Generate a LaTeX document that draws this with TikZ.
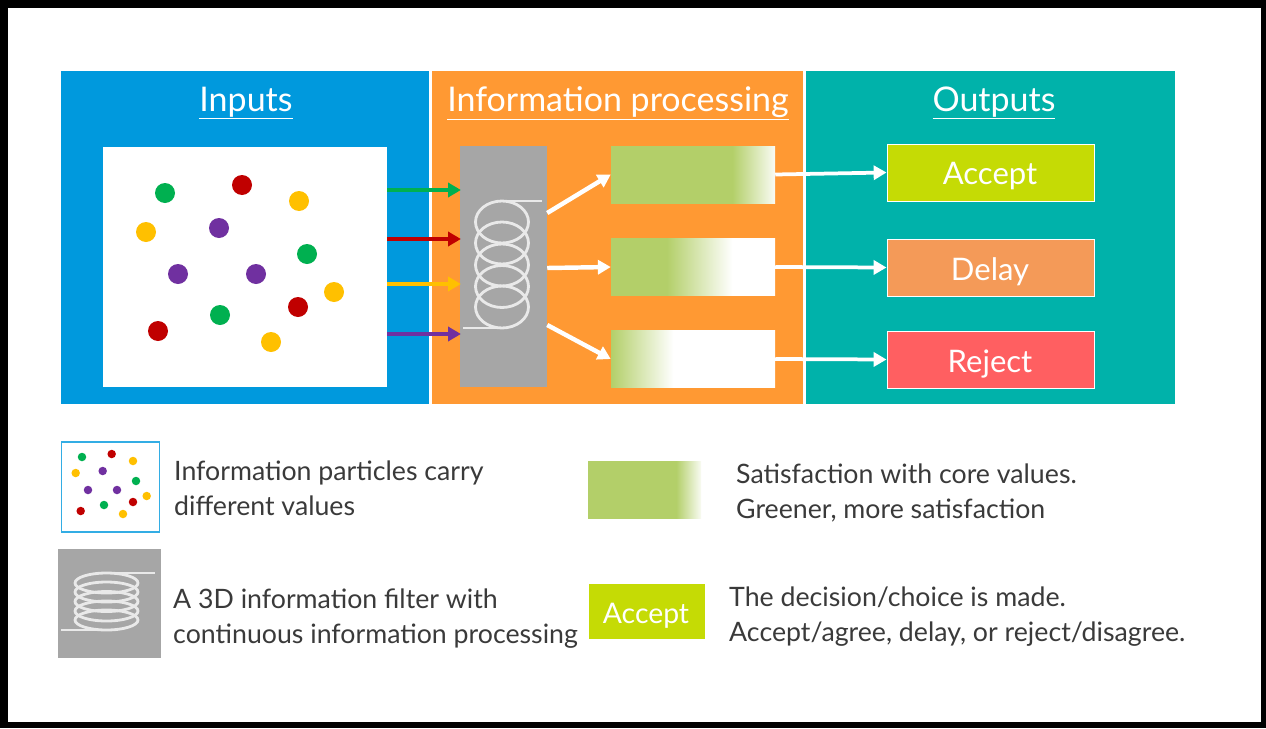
\documentclass[tikz,border=0pt]{standalone}
\usepackage{fontspec}
\setmainfont{Lato}
\usetikzlibrary{arrows.meta}
\definecolor{inblue}{HTML}{0099DD}
\definecolor{procorange}{HTML}{FF9933}
\definecolor{outteal}{HTML}{00B2AA}
\definecolor{satgreen}{HTML}{B3CF69}
\definecolor{acceptgreen}{HTML}{C5DB05}
\definecolor{delayorange}{HTML}{F49A58}
\definecolor{rejectred}{HTML}{FF5F61}
\definecolor{filtergray}{HTML}{A6A6A6}
\definecolor{coilwhite}{HTML}{E9E9E9}
\definecolor{legendtext}{HTML}{3A3A3A}
\definecolor{pgreen}{HTML}{00B050}
\definecolor{pred}{HTML}{C00000}
\definecolor{pyellow}{HTML}{FFC000}
\definecolor{ppurple}{HTML}{7030A0}
\pgfdeclarehorizontalshading{satA}{100bp}{color(0bp)=(satgreen); color(62bp)=(satgreen); color(76bp)=(white); color(100bp)=(white)}
\pgfdeclarehorizontalshading{satB}{100bp}{color(0bp)=(satgreen); color(42bp)=(satgreen); color(62bp)=(white); color(100bp)=(white)}
\pgfdeclarehorizontalshading{satC}{100bp}{color(0bp)=(satgreen); color(25bp)=(satgreen); color(44bp)=(white); color(100bp)=(white)}
\pgfdeclarehorizontalshading{satL}{100bp}{color(0bp)=(satgreen); color(64bp)=(satgreen); color(76bp)=(white); color(100bp)=(white)}
\def\px{0.03cm}
\tikzset{
    panel/.style={inner sep=0pt, minimum height=333*\px},
    panelhead/.style={text=white, font=\fontsize{29}{32}\selectfont},
    fitbox/.style={shade, inner sep=0pt, minimum width=164*\px, minimum height=57*\px},
    outbox/.style={draw=white, line width=0.8pt, text=white, inner sep=0pt, minimum width=207*\px, minimum height=57*\px, font=\fontsize{26.5}{28}\selectfont},
    particle/.style={circle, inner sep=0pt},
    legendnote/.style={anchor=west, align=left, inner sep=0pt, text=legendtext, font=\fontsize{22.8}{30.2}\selectfont},
    inarrow/.style={line width=3pt, -{Triangle[length=11pt,width=12pt]}},
    whitearrow/.style={white, line width=3.8pt, -{Triangle[length=11pt,width=12pt]}},
    coil/.style={coilwhite, line width=2.4pt},
}
\begin{document}
\begin{tikzpicture}[x=\px, y=-\px]
    \useasboundingbox (0,0) rectangle (1266,728);
    \fill[black] (0,0) rectangle (1266,728);
    \fill[white] (8,8) rectangle (1261,722);

    \node[panel, fill=inblue, minimum width=368*\px] (inputs) at (245,237.5) {};
    \node[panel, fill=procorange, minimum width=371*\px] (processing) at (617.5,237.5) {};
    \node[panel, fill=outteal, minimum width=369*\px] (outputs) at (990.5,237.5) {};
    \node[panelhead] (inputshead) at (246,103) {\underline{Inputs}};
    \node[panelhead] (processinghead) at (618,103) {\underline{Information processing}};
    \node[panelhead] (outputshead) at (994,103) {\underline{Outputs}};

    \node[fill=white, inner sep=0pt, minimum width=284*\px, minimum height=240*\px] (particles) at (245,267) {};
    \foreach \x/\y/\c in {165/193/pgreen, 242/185/pred, 299/201/pyellow, 146/232/pyellow, 219/228/ppurple,
            307/254/pgreen, 178/274/ppurple, 256/274/ppurple, 334/292/pyellow, 298/307/pred,
            220/315/pgreen, 158/331/pred, 271/342/pyellow}
        \node[particle, fill=\c, minimum size=20*\px] (dot\x) at (\x,\y) {};

    \node[fill=filtergray, inner sep=0pt, minimum width=87*\px, minimum height=241*\px] (filter) at (503.5,266.5) {};
    \foreach \y in {222, 243, 265, 286.5, 307}
        \draw[coil] (502,\y) ellipse [x radius=26.5, y radius=21];
    \draw[coil] (502,201) -- (542,201);
    \draw[coil] (463,328) -- (502,328);

    \foreach \y/\c in {190/pgreen, 239/pred, 284/pyellow, 334/ppurple}
        \draw[inarrow, \c] (particles.east |- 0,\y) -- ([xshift=1pt]filter.west |- 0,\y);

    \node[fitbox, shading=satA] (fitA) at (693,174.5) {};
    \node[fitbox, shading=satB] (fitB) at (693,267) {};
    \node[fitbox, shading=satC] (fitC) at (693,359) {};
    \draw[whitearrow] (filter.east |- 0,213) -- (fitA.west);
    \draw[whitearrow] (filter.east |- 0,268) -- (fitB.west);
    \draw[whitearrow] (filter.east |- 0,325) -- (fitC.west);

    \node[outbox, fill=acceptgreen] (accept) at (990.5,172.5) {};
    \node[outbox, fill=delayorange] (delay) at (990.5,267.5) {};
    \node[outbox, fill=rejectred] (reject) at (990.5,359.5) {};
    \node[text=white, font=\fontsize{26.5}{28}\selectfont] (accepttext) at (990,176.5) {Accept};
    \node[text=white, font=\fontsize{26.5}{28}\selectfont] (delaytext) at (990,271.5) {Delay};
    \node[text=white, font=\fontsize{26.5}{28}\selectfont] (rejecttext) at (990,363.5) {Reject};
    \draw[whitearrow, line width=3.2pt] (fitA.east) -- (accept.west);
    \draw[whitearrow, line width=3.2pt] (fitB.east) -- (delay.west);
    \draw[whitearrow, line width=3.2pt] (fitC.east) -- (reject.west);

    \node[draw=inblue!80!white, line width=1.4pt, inner sep=0pt, minimum width=98*\px, minimum height=90*\px] (legendparticles) at (110.5,487) {};
    \foreach \x/\y/\c in {82/457/pgreen, 111.7/454/pred, 133/461/pyellow, 75.7/473/pyellow, 102.7/471/ppurple,
            136/481/pgreen, 88/490/ppurple, 117/490/ppurple, 146.7/496/pyellow, 133/502/pred,
            104/505/pgreen, 80.7/511/pred, 123/514/pyellow}
        \node[particle, fill=\c, minimum size=8.5*\px] (legenddot\x) at (\x,\y) {};
    \node[legendnote] (legendparticlesnote) at (174,488) {Information particles carry\\different values};

    \node[fill=filtergray, inner sep=0pt, minimum width=103*\px, minimum height=109*\px] (legendfilter) at (109.5,603.5) {};
    \foreach \y in {583, 592, 601.5, 611, 620}
        \draw[coil] (106.5,\y) ellipse [x radius=31.5, y radius=10];
    \draw[coil] (106.5,573) -- (155,573);
    \draw[coil] (61,630) -- (106.5,630);
    \node[legendnote] (legendfilternote) at (173,618.5) {A 3D information filter with\\continuous information processing};

    \node[fitbox, shading=satL, minimum width=113*\px] (legendfit) at (644.5,489.5) {};
    \node[legendnote] (legendfitnote) at (736,493) {Satisfaction with core values.\\Greener, more satisfaction};

    \node[fill=acceptgreen, inner sep=0pt, minimum width=116*\px, minimum height=55*\px] (legendaccept) at (647,611.5) {};
    \node[text=white, font=\fontsize{24.2}{26}\selectfont] (legendaccepttext) at (646,615.5) {Accept};
    \node[legendnote] (legendacceptnote) at (729,616.5) {The decision/choice is made.\\Accept/agree, delay, or reject/disagree.};
\end{tikzpicture}
\end{document}
